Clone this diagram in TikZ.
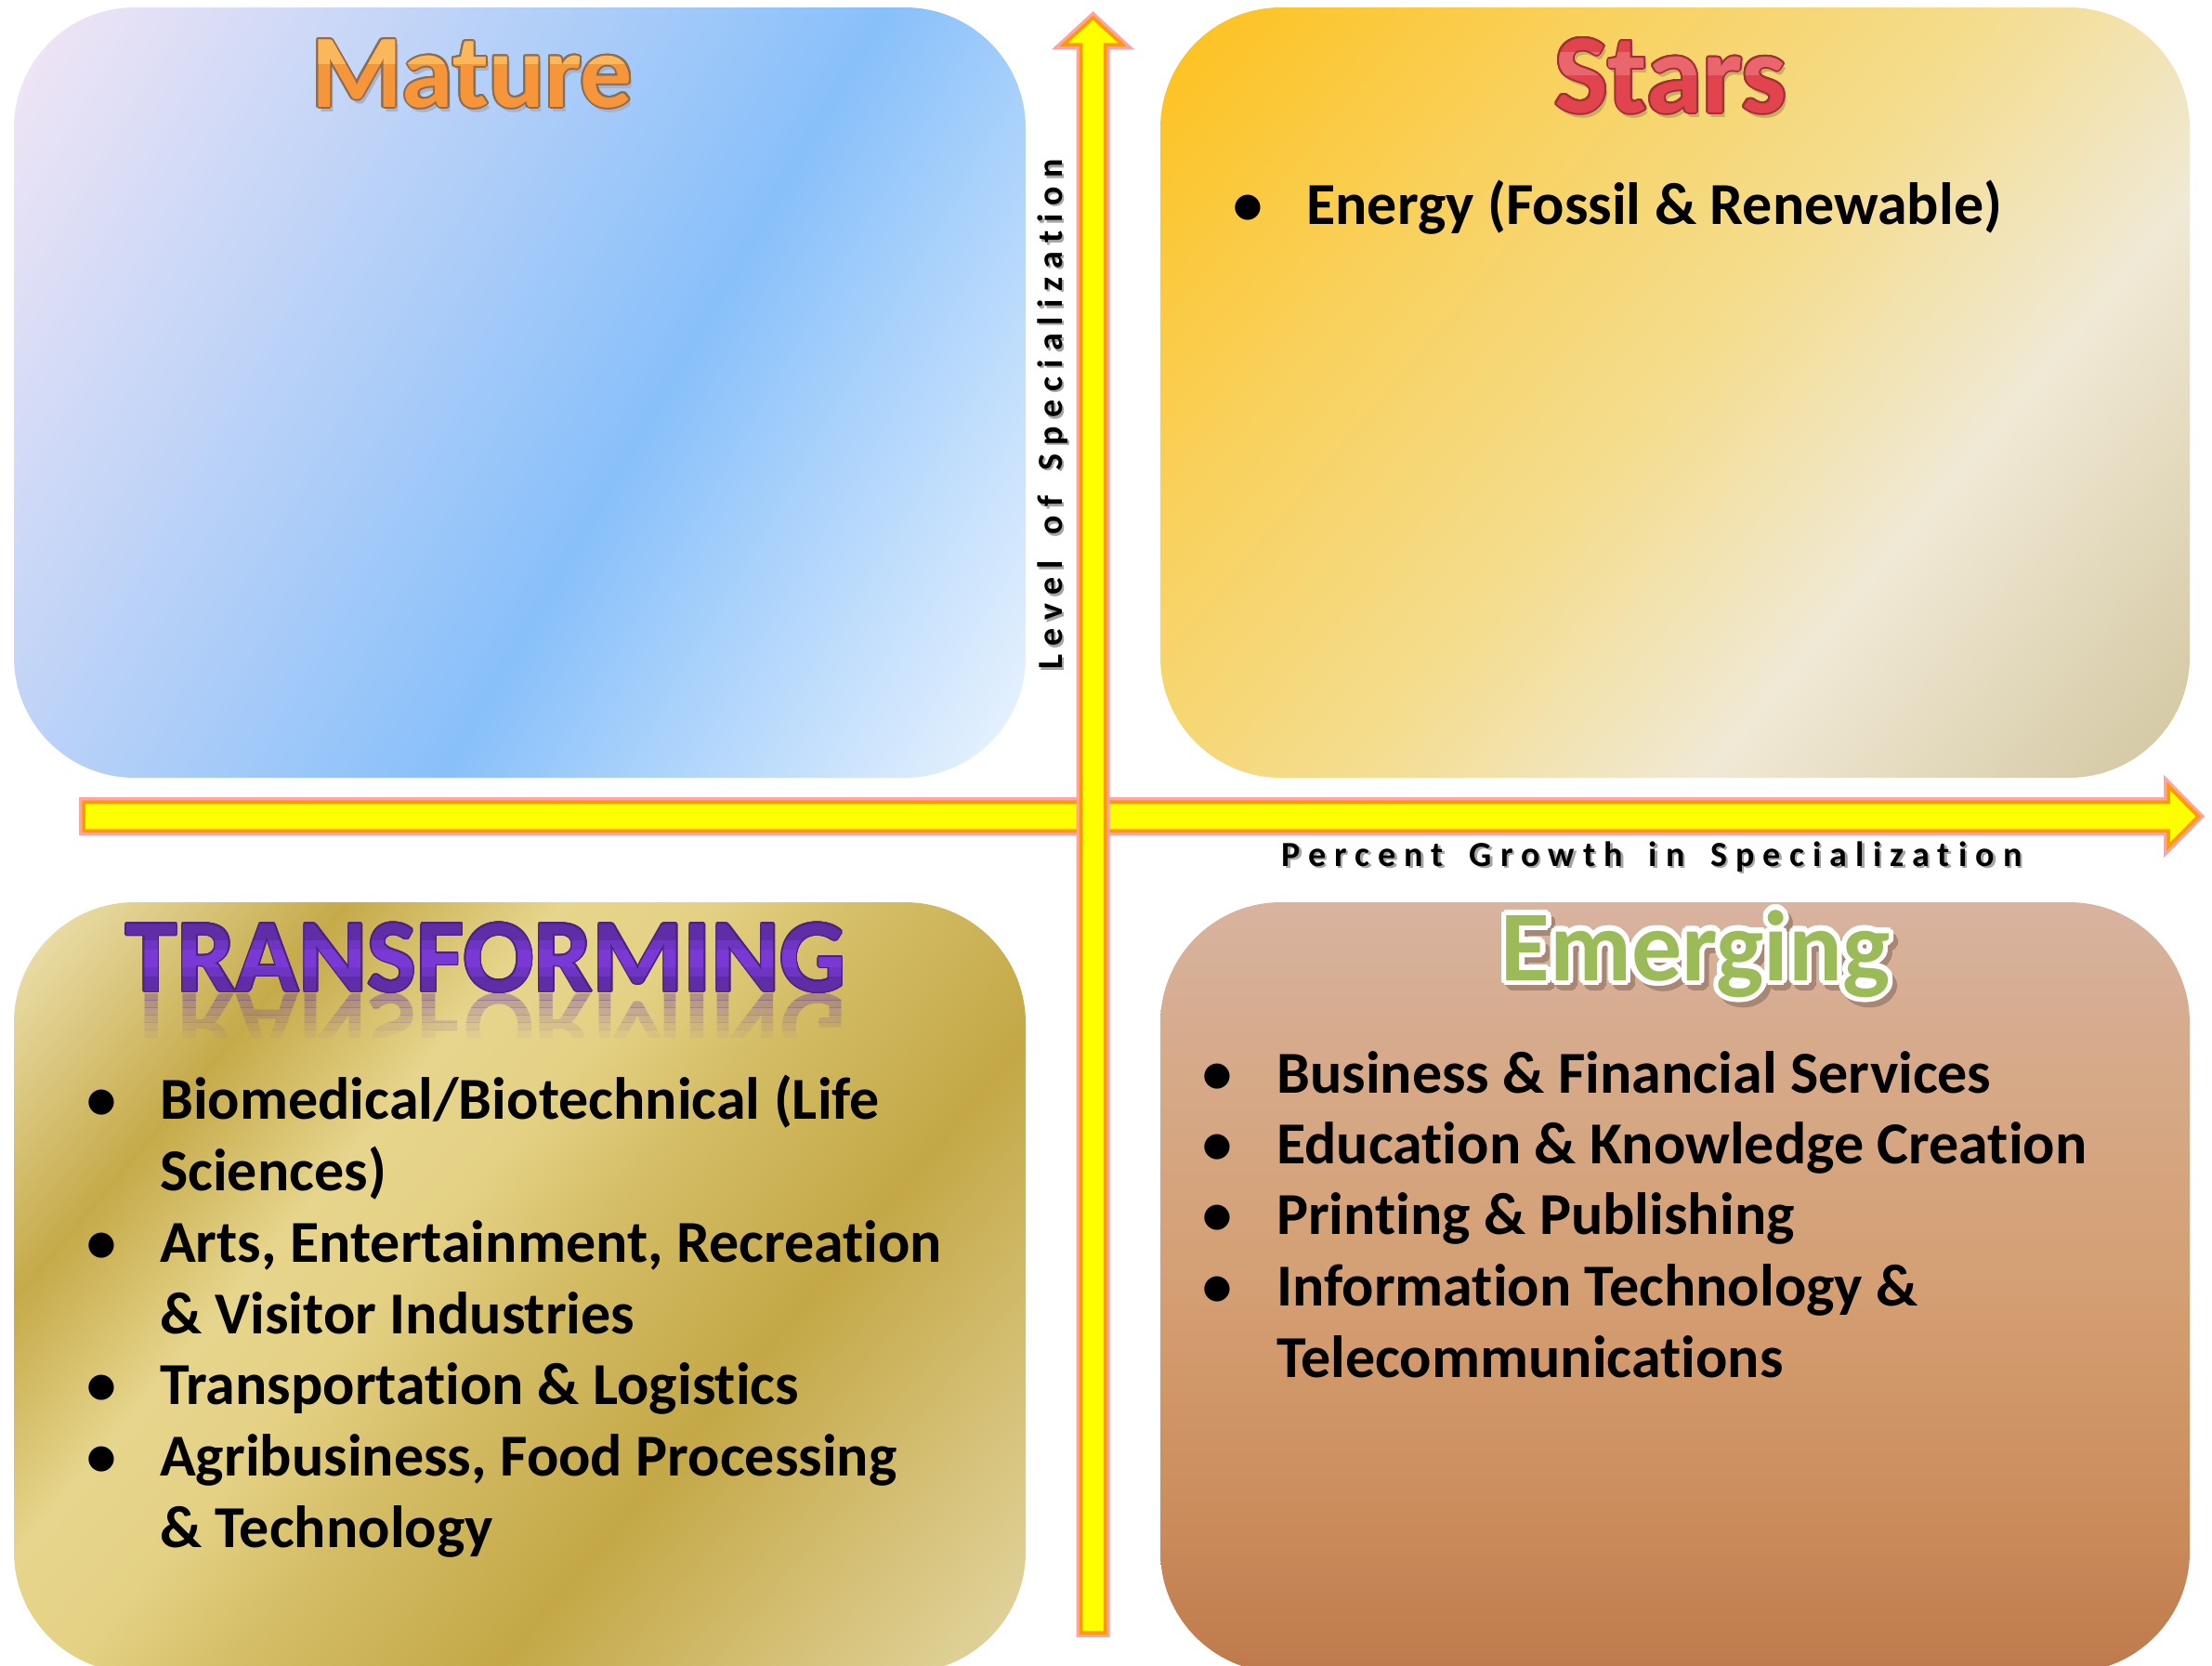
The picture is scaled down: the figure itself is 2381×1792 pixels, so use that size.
\documentclass[tikz,border=0pt]{standalone}
\usepackage{fontspec}
\setmainfont{Carlito}[Ligatures=NoCommon]
\newfontfamily\spacedfont[LetterSpace=24,Ligatures=NoCommon]{Carlito}
\definecolor{matA}{HTML}{F3E6F5}
\definecolor{matB}{HTML}{88C0FA}
\definecolor{matC}{HTML}{EBF4FE}
\definecolor{stA}{HTML}{FDC11C}
\definecolor{stB}{HTML}{F9D05A}
\definecolor{stC}{HTML}{F4DD8F}
\definecolor{stD}{HTML}{F0E9D5}
\definecolor{stE}{HTML}{D2C6A0}
\definecolor{trA}{HTML}{F0E6B8}
\definecolor{trB}{HTML}{C6AA4A}
\definecolor{trC}{HTML}{E6D58C}
\definecolor{trD}{HTML}{E4D184}
\definecolor{trE}{HTML}{D4BD66}
\definecolor{trF}{HTML}{C4A847}
\definecolor{trG}{HTML}{D6C27A}
\definecolor{trH}{HTML}{E2D6A2}
\definecolor{emA}{HTML}{BE7A4C}
\definecolor{emB}{HTML}{CB8C5C}
\definecolor{emC}{HTML}{D49F73}
\definecolor{emD}{HTML}{D6AA8A}
\definecolor{emE}{HTML}{D8B3A0}
\definecolor{arrowYellow}{HTML}{FFFF00}
\definecolor{arrowOrange}{HTML}{FF9900}
\definecolor{arrowPink}{HTML}{FFA3A3}
\definecolor{matFill}{HTML}{F7953B}
\definecolor{matLine}{HTML}{8C6D52}
\definecolor{matHi}{HTML}{FBB85B}
\definecolor{matShadow}{HTML}{A9B2C8}
\definecolor{stFill}{HTML}{E1444D}
\definecolor{stLine}{HTML}{A23038}
\definecolor{stHi}{HTML}{EA666D}
\definecolor{stShadow}{HTML}{C9AE62}
\definecolor{trFill}{HTML}{5F2DA5}
\definecolor{trLine}{HTML}{4A2480}
\definecolor{trHi}{HTML}{6E34C2}
\definecolor{trHi2}{HTML}{7A39D4}
\definecolor{emFill}{HTML}{9BBB59}
\definecolor{emShadow}{HTML}{A88674}
\pgfdeclarehorizontalshading{matureshade}{100bp}{color(0bp)=(matA); color(25bp)=(matA); color(55bp)=(matB); color(75bp)=(matC); color(100bp)=(matC)}
\pgfdeclarehorizontalshading{starshade}{100bp}{color(0bp)=(stA); color(25bp)=(stA); color(37.5bp)=(stB); color(50bp)=(stC); color(60.5bp)=(stD); color(75bp)=(stE); color(100bp)=(stE)}
\pgfdeclarehorizontalshading{transshade}{100bp}{color(0bp)=(trA); color(25bp)=(trA); color(35bp)=(trB); color(41.5bp)=(trC); color(46bp)=(trD); color(51bp)=(trE); color(59bp)=(trF); color(68bp)=(trG); color(75bp)=(trH); color(100bp)=(trH)}
\pgfdeclareverticalshading{emergshade}{100bp}{color(0bp)=(emA); color(25bp)=(emA); color(35bp)=(emB); color(50bp)=(emC); color(65bp)=(emD); color(75bp)=(emE); color(100bp)=(emE)}
\newcommand\fancytitle[8]{%
  \foreach \a in {0,22.5,...,337.5}{%
    \node[ttl, text=#6, xshift={#7*cos(\a)}, yshift={#7*sin(\a)}] (#1-o\a) at (#2,#3) {\fontsize{#4}{#4}\selectfont #5};
  }%
  \node[ttl, text=#8] (#1) at (#2,#3) {\fontsize{#4}{#4}\selectfont #5};
}
\newcommand\wsp{\hspace{10pt} }
\begin{document}
\begin{tikzpicture}[x=1pt,y=-1pt,
  ttl/.style={anchor=base, inner sep=0pt, font=\bfseries},
  body/.style={anchor=base west, inner sep=0pt, font=\bfseries\fontsize{64}{64}\selectfont},
  bul/.style={anchor=base, inner sep=0pt, font=\bfseries\fontsize{64}{64}\selectfont},
  axislbl/.style={anchor=base, inner sep=0pt, font=\spacedfont\bfseries\fontsize{38}{38}\selectfont},
  glow/.style={draw=arrowPink, line width=10pt, line join=miter},
  arrowbody/.style={fill=arrowYellow, draw=arrowOrange, line width=3.5pt, line join=miter, preaction={glow}}
]
\useasboundingbox (0,0) rectangle (2381,1792);
\fill[white] (0,0) rectangle (2381,1792);

% ---------- quadrant boxes ----------
\begin{scope}
  \clip[rounded corners=130pt] (15,8) rectangle (1104,837);
  \shade[shading=matureshade, shading angle=-30] (-119.25,-256.25) rectangle (1238.25,1101.25);
\end{scope}
\begin{scope}
  \clip[rounded corners=130pt] (1249,8) rectangle (2357,837);
  \shade[shading=starshade, shading angle=-40] (1112,-268.5) rectangle (2494,1113.5);
\end{scope}
\begin{scope}
  \clip[rounded corners=130pt] (15,971) rectangle (1104,1800);
  \shade[shading=transshade, shading angle=-40] (-124,702) rectangle (1243,2069);
\end{scope}
\shade[shading=emergshade, rounded corners=130pt] (1249,971) rectangle (2357,1800);

% ---------- axes ----------
\path[arrowbody] (90,863) -- (2334,863) -- (2334,846) -- (2366,878.5) -- (2334,911) -- (2334,894) -- (90,894) -- cycle;
\path[arrowbody] (1163.5,1757) -- (1163.5,48) -- (1145,48) -- (1176.5,19) -- (1208,48) -- (1189.5,48) -- (1189.5,1757) -- cycle;

\node[axislbl, rotate=90, text=black!35] (ylabsh) at (1145.5,448.5) {Level\wsp of\wsp Specialization};
\node[axislbl, rotate=90] (ylab) at (1143,446) {Level\wsp of\wsp Specialization};
\node[axislbl, text=black!35] (xlabsh) at (1780.5,934.5) {Percent\wsp Growth\wsp in\wsp Specialization};
\node[axislbl] (xlab) at (1778,932) {Percent\wsp Growth\wsp in\wsp Specialization};

% ---------- titles ----------
% Mature
\node[ttl, text=matShadow] (matsh) at (511,120) {\fontsize{112}{112}\selectfont Mature};
\fancytitle{mat}{508}{115}{112}{Mature}{matLine}{2}{matFill}
\begin{scope}
  \clip (300,40) rectangle (720,68);
  \node[ttl, text=matHi] (mathi) at (508,115) {\fontsize{112}{112}\selectfont Mature};
\end{scope}
% Stars
\node[ttl, text=stShadow] (stsh) at (1801,126) {\fontsize{122}{122}\selectfont Stars};
\fancytitle{st}{1798}{121}{122}{Stars}{stLine}{2}{stFill}
\begin{scope}
  \clip (1600,56) rectangle (2000,80);
  \node[ttl, text=stHi] (sthi) at (1798,121) {\fontsize{122}{122}\selectfont Stars};
\end{scope}
% TRANSFORMING + reflection
\foreach \i/\op in {0/0.36,1/0.29,2/0.22,3/0.16,4/0.1,5/0.05}{%
  \begin{scope}
    \clip (100,{1068+\i*8}) rectangle (960,{1076+\i*8});
    \node[ttl, text=trFill, opacity=\op] (trref\i) at (523,1069) {\fontsize{112}{112}\selectfont\scalebox{1}[-1]{TRANSFORMING}};
  \end{scope}
}
\fancytitle{tr}{523}{1067}{112}{TRANSFORMING}{trLine}{1.5}{trFill}
\begin{scope}
  \clip (100,1012) rectangle (960,1050);
  \node[ttl, text=trHi] (trhi) at (523,1067) {\fontsize{112}{112}\selectfont TRANSFORMING};
\end{scope}
\begin{scope}
  \clip (100,1022) rectangle (960,1040);
  \node[ttl, text=trHi2] (trhi2) at (523,1067) {\fontsize{112}{112}\selectfont TRANSFORMING};
\end{scope}
% Emerging
\fancytitle{emsh}{1830}{1061}{108}{Emerging}{emShadow}{5}{emShadow}
\fancytitle{em}{1825}{1055}{108}{Emerging}{white}{5.5}{emFill}

% ---------- bullet texts ----------
\node[bul] (sb1) at (1343,241) {•};
\node[body] (s1) at (1406,241) {Energy (Fossil \& Renewable)};

\node[bul] (tb1) at (109,1204) {•};
\node[body] (t1) at (172,1204) {Biomedical/Biotechnical (Life};
\node[body] (t2) at (172,1281) {Sciences)};
\node[bul] (tb2) at (109,1358) {•};
\node[body] (t3) at (172,1358) {Arts, Entertainment, Recreation};
\node[body] (t4) at (172,1435) {\& Visitor Industries};
\node[bul] (tb3) at (109,1511) {•};
\node[body] (t5) at (172,1511) {Transportation \& Logistics};
\node[bul] (tb4) at (109,1588) {•};
\node[body] (t6) at (172,1588) {Agribusiness, Food Processing};
\node[body] (t7) at (172,1665) {\& Technology};

\node[bul] (eb1) at (1310,1176) {•};
\node[body] (e1) at (1374,1176) {Business \& Financial Services};
\node[bul] (eb2) at (1310,1252) {•};
\node[body] (e2) at (1374,1252) {Education \& Knowledge Creation};
\node[bul] (eb3) at (1310,1328) {•};
\node[body] (e3) at (1374,1328) {Printing \& Publishing};
\node[bul] (eb4) at (1310,1405) {•};
\node[body] (e4) at (1374,1405) {Information Technology \&};
\node[body] (e5) at (1374,1482) {Telecommunications};
\end{tikzpicture}
\end{document}
